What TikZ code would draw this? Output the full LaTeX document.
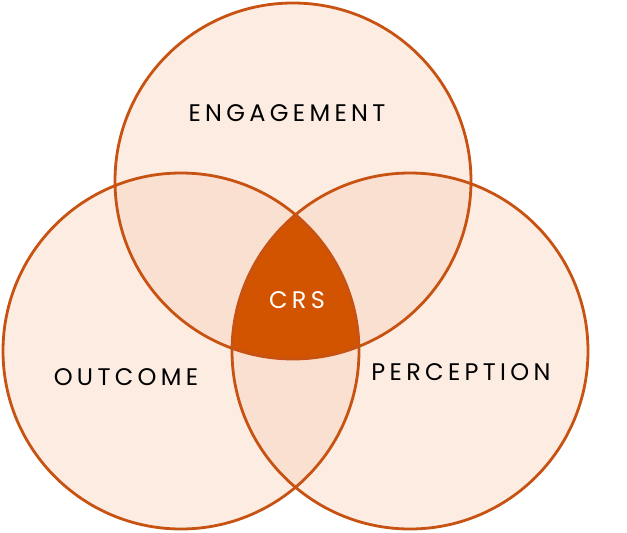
\documentclass[tikz,border=0pt]{standalone}
\usepackage{fontspec}
\newfontfamily\labelfont[LetterSpace=18]{Poppins}
\definecolor{pumpkin}{HTML}{D35400}
\definecolor{rim}{HTML}{C75212}
\definecolor{onefill}{HTML}{FCECE1}
\definecolor{pairfill}{HTML}{FAE0D0}
\begin{document}
\begin{tikzpicture}[x=1pt,y=-1pt,
  rimline/.style={draw=rim,line width=2.8pt},
  lbl/.style={font=\labelfont\fontsize{24}{24}\selectfont,text=black,inner sep=0pt}]
\useasboundingbox (0,0) rectangle (627,533);
\coordinate (ctop) at (293,181);
\coordinate (cleft) at (181,351);
\coordinate (cright) at (410,351);
\fill[fill=onefill] (ctop) circle (178);
\fill[fill=onefill] (cleft) circle (178);
\fill[fill=onefill] (cright) circle (178);
\begin{scope}
  \clip (ctop) circle (178);
  \fill[fill=pairfill] (cleft) circle (178);
  \fill[fill=pairfill] (cright) circle (178);
\end{scope}
\begin{scope}
  \clip (cleft) circle (178);
  \fill[fill=pairfill] (cright) circle (178);
\end{scope}
\begin{scope}
  \clip (cleft) circle (178);
  \clip (cright) circle (178);
  \fill[fill=pumpkin] (ctop) circle (178);
\end{scope}
\draw[rimline] (ctop) circle (178);
\draw[rimline] (cleft) circle (178);
\draw[rimline] (cright) circle (178);
\node[lbl] (eng) at (287,113) {ENGAGEMENT};
\node[lbl] (out) at (126,377) {OUTCOME};
\node[lbl] (per) at (461,372) {PERCEPTION};
\node[lbl,text=white] (crs) at (297,300) {CRS};
\end{tikzpicture}
\end{document}
